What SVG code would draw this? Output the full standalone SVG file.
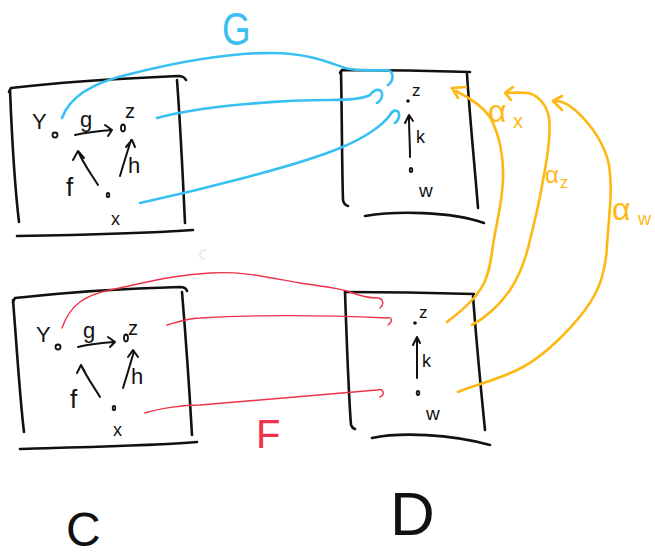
<svg xmlns="http://www.w3.org/2000/svg" width="655" height="558" viewBox="0 0 655 558">
<style>
.ink{fill:none;stroke:#111;stroke-width:2.6;stroke-linecap:round;stroke-linejoin:round}
.thin{fill:none;stroke:#111;stroke-width:2;stroke-linecap:round;stroke-linejoin:round}
.dot{fill:none;stroke:#111;stroke-width:1.8}
.t{font-family:"Liberation Sans",Arial,sans-serif;fill:#111}
.blue{fill:none;stroke:#39c0f2;stroke-width:2.6;stroke-linecap:round;stroke-linejoin:round}
.red{fill:none;stroke:#ec3349;stroke-width:1.4;stroke-linecap:round;stroke-linejoin:round}
.org{fill:none;stroke:#fdb813;stroke-width:2.6;stroke-linecap:round;stroke-linejoin:round}
.ot{font-family:"Liberation Sans",Arial,sans-serif;fill:#fdb813}
</style>
<rect width="655" height="558" fill="#fff"/>

<g id="C_top">
<path class="ink" d="M9,92 L11,88 C60,82 130,78 178,76 Q184,76 186,80"/>
<path class="ink" d="M10,90 C12,140 14,180 19,222"/>
<path class="ink" d="M177,80 C180,120 183,180 185,223"/>
<path class="ink" d="M17,236 C80,235 150,233 193,230"/>
<ellipse class="dot" cx="55" cy="135" rx="2.5" ry="2.5"/>
<ellipse class="dot" cx="123" cy="128" rx="2" ry="3.5"/>
<ellipse class="dot" cx="108" cy="195" rx="1.3" ry="2.2"/>
<path class="thin" d="M75,135 C88,132 100,131 112,130 M105,125 L112,130 L108,136"/>
<path class="thin" d="M98,185 C92,175 84,165 79,153 M73,160 L78,151 L84,158"/>
<path class="thin" d="M120,176 C124,162 128,150 131,140 M126,147 L132,140 L135,147"/>
<text class="t" x="32" y="129" font-size="22">Y</text>
<text class="t" x="80" y="127" font-size="22">g</text>
<text class="t" x="125" y="118" font-size="20">z</text>
<text class="t" x="66" y="196" font-size="26">f</text>
<text class="t" x="128" y="173" font-size="22">h</text>
<text class="t" x="111" y="225" font-size="18">x</text>
</g>

<g id="D_top">
<path class="ink" d="M340,73 L342,70 C390,70 440,71 470,72"/>
<path class="ink" d="M341,71 C342,120 342,170 343,200 Q344,205 348,206"/>
<path class="ink" d="M467,74 C470,120 475,170 478,208"/>
<path class="ink" d="M365,216 C395,211 450,211 484,223"/>
<circle cx="408" cy="101" r="1.8" fill="#111"/>
<ellipse class="dot" cx="411" cy="170" rx="1.3" ry="2"/>
<path class="thin" d="M410,157 C410,145 409,130 409,117 M405,123 L409,115 L413,121"/>
<text class="t" x="412" y="96" font-size="17">z</text>
<text class="t" x="416" y="143" font-size="18">k</text>
<text class="t" x="419" y="197" font-size="19">w</text>
</g>

<g id="C_bottom">
<path class="ink" d="M13,302 L15,298 C70,292 140,288 180,287 Q186,287 187,291"/>
<path class="ink" d="M13,300 C17,350 20,400 24,432"/>
<path class="ink" d="M182,292 C186,340 190,400 192,435"/>
<path class="ink" d="M20,449 C80,447 150,446 197,442"/>
<ellipse class="dot" cx="58" cy="347" rx="2.5" ry="2.5"/>
<ellipse class="dot" cx="126" cy="338" rx="2" ry="3.5"/>
<ellipse class="dot" cx="114" cy="408" rx="1.3" ry="2.2"/>
<path class="thin" d="M78,347 C90,344 103,343 115,342 M108,337 L115,342 L110,347"/>
<path class="thin" d="M100,397 C94,387 86,376 81,365 M77,373 L81,365 L85,372"/>
<path class="thin" d="M123,388 C127,375 131,362 134,351 M128,357 L133,350 L138,357"/>
<text class="t" x="36" y="342" font-size="22">Y</text>
<text class="t" x="83" y="338" font-size="22">g</text>
<text class="t" x="128" y="335" font-size="20">z</text>
<text class="t" x="70" y="408" font-size="26">f</text>
<text class="t" x="131" y="384" font-size="22">h</text>
<text class="t" x="113" y="436" font-size="18">x</text>
</g>

<g id="D_bottom">
<path class="ink" d="M345,292 C390,292 440,293 474,294"/>
<path class="ink" d="M345,292 C347,350 349,400 351,425 Q352,428 355,429"/>
<path class="ink" d="M473,296 C477,350 482,400 485,430"/>
<path class="ink" d="M372,438 C400,432 450,434 490,445"/>
<circle cx="415" cy="323" r="1.8" fill="#111"/>
<ellipse class="dot" cx="418" cy="393" rx="1.3" ry="2"/>
<path class="thin" d="M417,378 C417,365 417,350 417,338 M413,345 L417,337 L420,343"/>
<text class="t" x="419" y="318" font-size="17">z</text>
<text class="t" x="422" y="367" font-size="18">k</text>
<text class="t" x="426" y="420" font-size="19">w</text>
</g>

<g id="connectors">
<path class="blue" d="M62,118 C70,95 95,82 130,74 C170,64 220,53 270,53 C310,53 330,63 345,68 C360,72 380,70 388,70 C394,72 394,81 388,85"/>
<path class="blue" d="M157,118 C200,106 280,100 330,100 C350,100 362,99 370,95 C375,88 383,88 382,96 C381,100 379,102 377,103"/>
<path class="blue" d="M140,203 C200,190 300,165 340,148 C365,138 383,125 390,115 C394,108 400,110 399,117 C398,120 397,122 395,123"/>
<path class="red" d="M62,328 C70,305 85,295 110,290 C140,284 170,275 210,273 C245,271 270,278 300,283 C325,287 340,288 350,292 C360,296 370,298 378,298 C384,299 384,305 380,308"/>
<path class="red" d="M167,325 C180,321 192,318 200,318 C250,315 320,315 387,318 C392,316 393,322 388,325"/>
<path class="red" d="M145,413 C160,408 185,405 200,405 C260,400 320,395 377,390 C384,388 385,395 380,397"/>
<path class="org" d="M447,322 C460,312 475,300 483,285 C490,272 491,258 493,245 C496,225 502,205 503,180 C504,160 500,135 490,117 C483,107 470,98 456,91 M466,87 L452,88 L458,98"/>
<path class="org" d="M472,325 C485,318 500,305 510,290 C520,275 526,258 530,240 C535,220 540,200 543,180 C547,160 551,135 549,118 C547,105 538,95 528,93 C520,92 512,93 506,93 M513,87 L505,93 L511,100"/>
<path class="org" d="M458,392 C470,386 500,380 523,367 C545,355 570,330 585,310 C600,290 606,270 607,245 C609,215 613,190 609,165 C605,145 592,125 575,110 C568,104 562,101 556,101 M562,96 L553,101 L562,110"/>
<path d="M206,250 C199,250 198,258 204,259" fill="none" stroke="#ececec" stroke-width="2" stroke-linecap="round"/>
</g>

<g id="labels">
<text x="222" y="45" font-family="Liberation Sans, Arial, sans-serif" font-size="46" fill="#39c0f2" transform="translate(222 45) scale(0.8 1) translate(-222 -45)">G</text>
<text x="256" y="448" font-family="Liberation Sans, Arial, sans-serif" font-size="40" fill="#ec3349">F</text>
<text class="ot" x="488" y="122" font-size="32">α</text>
<text class="ot" x="513" y="128" font-size="20">x</text>
<text class="ot" x="545" y="183" font-size="24">α</text>
<text class="ot" x="560" y="188" font-size="16">z</text>
<text class="ot" x="612" y="220" font-size="32">α</text>
<text class="ot" x="638" y="225" font-size="18">w</text>
<text class="t" x="66" y="546" font-size="48">C</text>
<text class="t" x="390" y="535" font-size="62">D</text>
</g>
</svg>
